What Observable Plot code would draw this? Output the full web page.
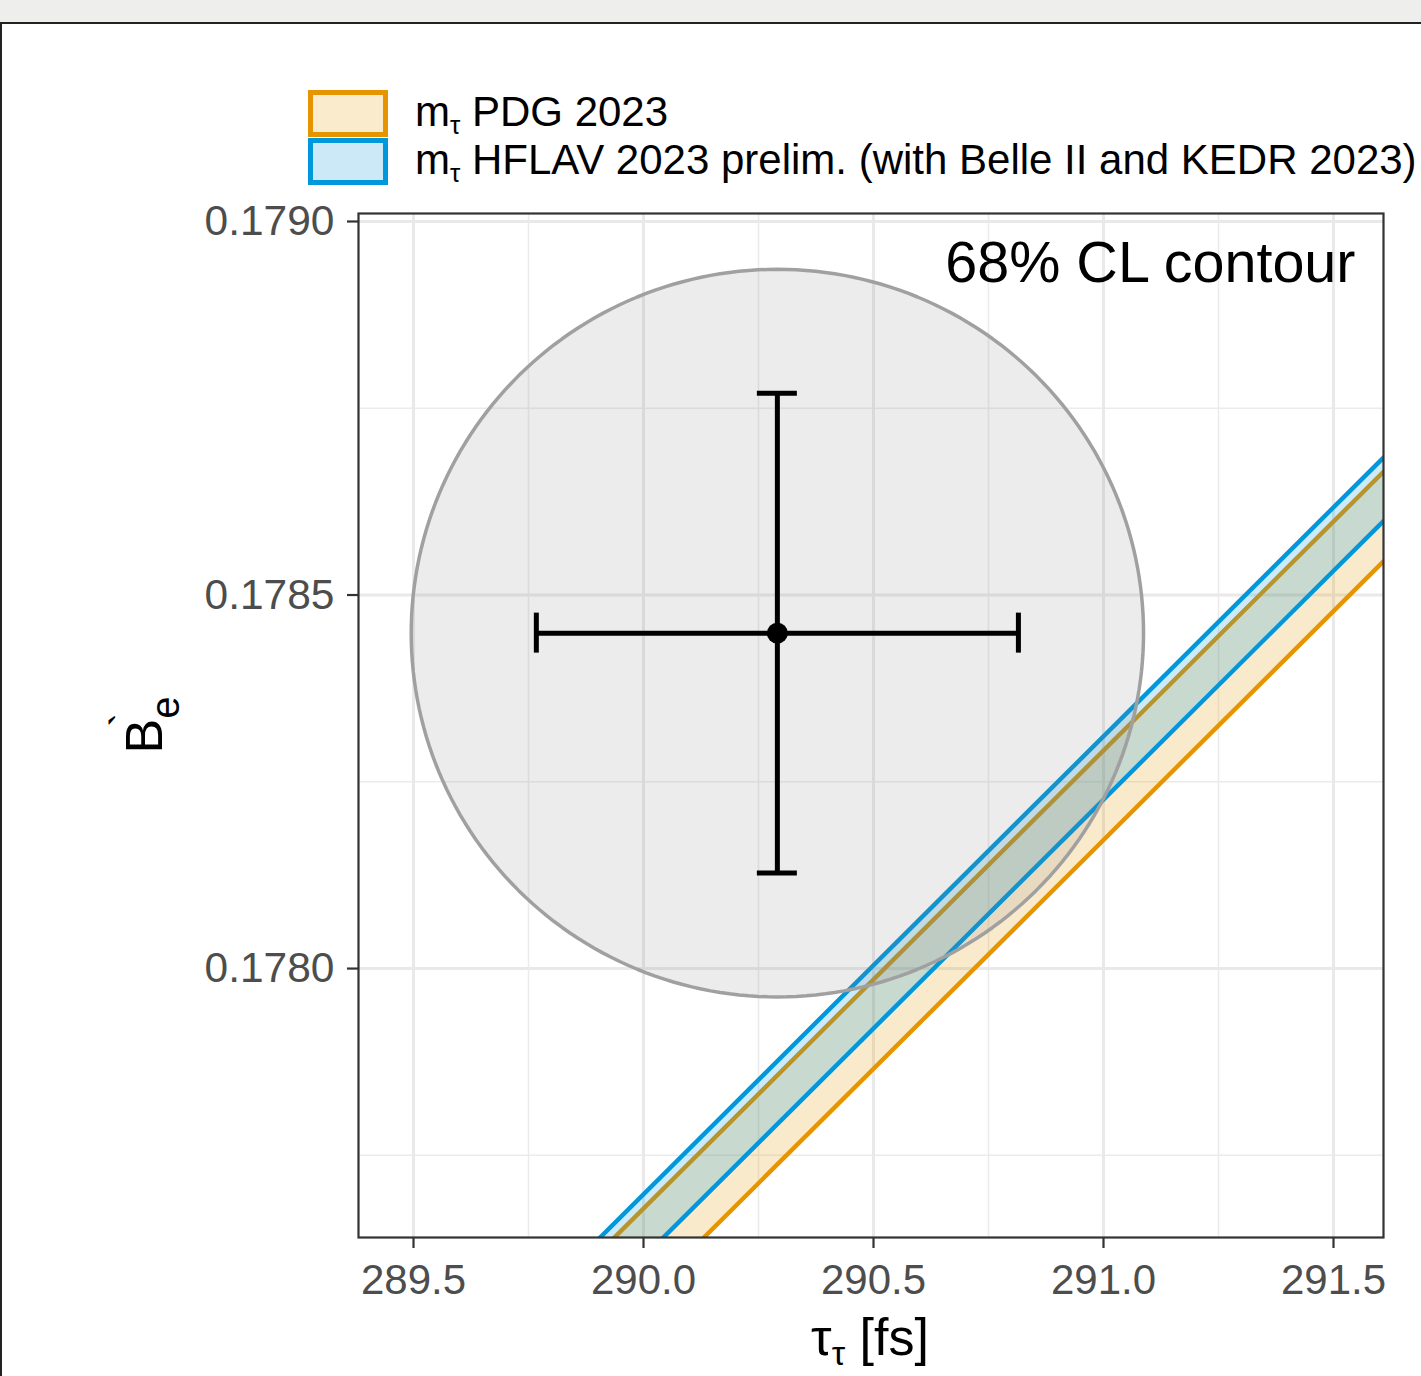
<!DOCTYPE html>
<html>
<head>
<meta charset="utf-8">
<script src="https://cdn.jsdelivr.net/npm/d3@7"></script>
<script src="https://cdn.jsdelivr.net/npm/@observablehq/plot@0.6"></script>
<style>
html, body { margin: 0; padding: 0; width: 1421px; height: 1376px; overflow: hidden; background: #eeeeec; font-family: "Liberation Sans", Arial, sans-serif; }
#frame { position: absolute; left: 0; top: 22px; width: 1421px; height: 1354px; background: #fff; border-top: 2px solid #222; box-sizing: border-box; }
#leftedge { position: absolute; left: 0; top: 22px; width: 2px; height: 1354px; background: #222; z-index: 5; }
.key { position: absolute; left: 308px; width: 80px; height: 47px; box-sizing: border-box; border: 5px solid; }
.lab { position: absolute; left: 415px; font-size: 42px; line-height: 42px; white-space: nowrap; color: #000; }
.lab sub { font-size: 26px; vertical-align: -8px; line-height: 0; }
#chart { position: absolute; left: 0; top: 195px; }
</style>
</head>
<body>
<div id="frame"></div>
<div id="chart"></div>
<div id="legend"></div>
<div id="leftedge"></div>
<script>
// ---- data ----
const legendLabels = ["PDG 2023", "HFLAV 2023 prelim. (with Belle II and KEDR 2023)"];
const tauEnds = [289.3804, 291.6087];          // τ values where band edges were read
const pdgLower = [0.177180, 0.178545];
const pdgUpper = [0.177299, 0.178665];
const hflavLower = [0.177234, 0.178599];
const hflavUpper = [0.177318, 0.178684];
const centerTau = 290.291, centerBe = 0.178449;
const errTau = 0.524, errBe = 0.000321;
const contourTau = 0.796, contourBe = 0.000487;   // 68% CL contour semi-axes
const xTicks = [289.5, 290.0, 290.5, 291.0, 291.5];
const xMinor = [289.75, 290.25, 290.75, 291.25];
const yTicks = [0.1780, 0.1785, 0.1790];
const yMinor = [0.17775, 0.17825, 0.17875];
const xDomain = [289.3804, 291.6087];
const yDomain = [0.177640, 0.1790107];

// ---- styles ----
const orange = "#E69500", blue = "#0097DC";
const top0 = 195;

// legend
const legend = document.getElementById("legend");
[[orange, "#F9EBCC", 90, legendLabels[0]], [blue, "#CCE9F8", 138, legendLabels[1]]].forEach(([s, f, top, t], i) => {
  const k = document.createElement("div");
  k.className = "key"; k.style.top = top + "px"; k.style.borderColor = s; k.style.background = f;
  legend.appendChild(k);
  const l = document.createElement("div");
  l.className = "lab"; l.style.top = (top + 0.5) + "px";
  l.innerHTML = "m<sub>τ</sub> " + t;
  legend.appendChild(l);
});

const bands = tauEnds.map((t, i) => ({tau: t, pl: pdgLower[i], pu: pdgUpper[i], hl: hflavLower[i], hu: hflavUpper[i]}));
const N = 240;
const ellipse = d3.range(N).map(i => {
  const a = 2 * Math.PI * i / N;
  return {tau: centerTau + contourTau * Math.cos(a), Be: centerBe + contourBe * Math.sin(a)};
});
const center = [{tau: centerTau, Be: centerBe}];
const xCaps = [{tau: centerTau - errTau, Be: centerBe}, {tau: centerTau + errTau, Be: centerBe}];
const yCaps = [{tau: centerTau, Be: centerBe - errBe}, {tau: centerTau, Be: centerBe + errBe}];

const plot = Plot.plot({
  width: 1421, height: 1376 - top0,
  marginLeft: 358, marginRight: 38, marginTop: 213 - top0, marginBottom: 139,
  x: {domain: xDomain},
  y: {domain: yDomain},
  style: {fontFamily: "Liberation Sans, Arial, sans-serif", background: "white", overflow: "hidden"},
  marks: [
    Plot.gridX(xMinor, {stroke: "#ebebeb", strokeOpacity: 1, strokeWidth: 1.5}),
    Plot.gridY(yMinor, {stroke: "#ebebeb", strokeOpacity: 1, strokeWidth: 1.5}),
    Plot.gridX(xTicks, {stroke: "#e9e9e9", strokeOpacity: 1, strokeWidth: 3}),
    Plot.gridY(yTicks, {stroke: "#e9e9e9", strokeOpacity: 1, strokeWidth: 3}),
    Plot.areaY(bands, {x: "tau", y1: "pl", y2: "pu", fill: orange, fillOpacity: 0.2, clip: true}),
    Plot.line(bands, {x: "tau", y: "pl", stroke: orange, strokeWidth: 4.4, clip: true}),
    Plot.line(bands, {x: "tau", y: "pu", stroke: orange, strokeWidth: 4.4, clip: true}),
    Plot.areaY(bands, {x: "tau", y1: "hl", y2: "hu", fill: blue, fillOpacity: 0.2, clip: true}),
    Plot.line(bands, {x: "tau", y: "hl", stroke: blue, strokeWidth: 4.4, clip: true}),
    Plot.line(bands, {x: "tau", y: "hu", stroke: blue, strokeWidth: 4.4, clip: true}),
    Plot.line(ellipse, {x: "tau", y: "Be", curve: "linear-closed", fill: "#808080", fillOpacity: 0.15, stroke: "#a0a0a0", strokeWidth: 3.5}),
    Plot.ruleY(center, {y: "Be", x1: d => d.tau - errTau, x2: d => d.tau + errTau, stroke: "black", strokeWidth: 5}),
    Plot.ruleX(center, {x: "tau", y1: d => d.Be - errBe, y2: d => d.Be + errBe, stroke: "black", strokeWidth: 5}),
    Plot.ruleX(xCaps, {x: "tau", y1: "Be", y2: "Be", insetTop: -20, insetBottom: -20, stroke: "black", strokeWidth: 5}),
    Plot.ruleY(yCaps, {y: "Be", x1: "tau", x2: "tau", insetLeft: -20, insetRight: -20, stroke: "black", strokeWidth: 5}),
    Plot.dot(center, {x: "tau", y: "Be", r: 10.5, fill: "black"}),
    Plot.text(["68% CL contour"], {frameAnchor: "top-right", dx: -28, dy: 50, fontSize: 57.5, fill: "black", textAnchor: "end", lineAnchor: "middle"}),
    Plot.frame({stroke: "#333", strokeWidth: 2.2}),
    Plot.axisX({ticks: xTicks, tickFormat: d3.format(".1f"), tickSize: 11, tickPadding: 16, fontSize: 42, fill: "#4d4d4d", stroke: "#333", strokeWidth: 2.2, label: null}),
    Plot.axisY({ticks: yTicks, tickFormat: d3.format(".4f"), tickSize: 11, tickPadding: 13, fontSize: 42.5, fill: "#4d4d4d", stroke: "#333", strokeWidth: 2.2, label: null})
  ]
});

const svg = d3.select(plot);
// x axis title: τ_τ [fs]
const xt = svg.append("text")
  .attr("x", 870).attr("y", 1355 - top0)
  .attr("text-anchor", "middle").attr("font-size", 52).attr("fill", "black");
xt.append("tspan").text("τ");
xt.append("tspan").attr("font-size", 34).attr("dy", 10).text("τ");
xt.append("tspan").attr("dy", -10).text(" [fs]");
// y axis title: B`_e
const yt = svg.append("text")
  .attr("transform", `translate(162,${725 - top0}) rotate(-90)`)
  .attr("text-anchor", "middle").attr("font-size", 52).attr("fill", "black");
yt.append("tspan").text("B");
yt.append("tspan").attr("font-size", 42).attr("dx", -8).attr("dy", -22).text("`");
yt.append("tspan").attr("font-size", 40).attr("dx", -6).attr("dy", 39).text("e");

document.getElementById("chart").appendChild(plot);
</script>
</body>
</html>
